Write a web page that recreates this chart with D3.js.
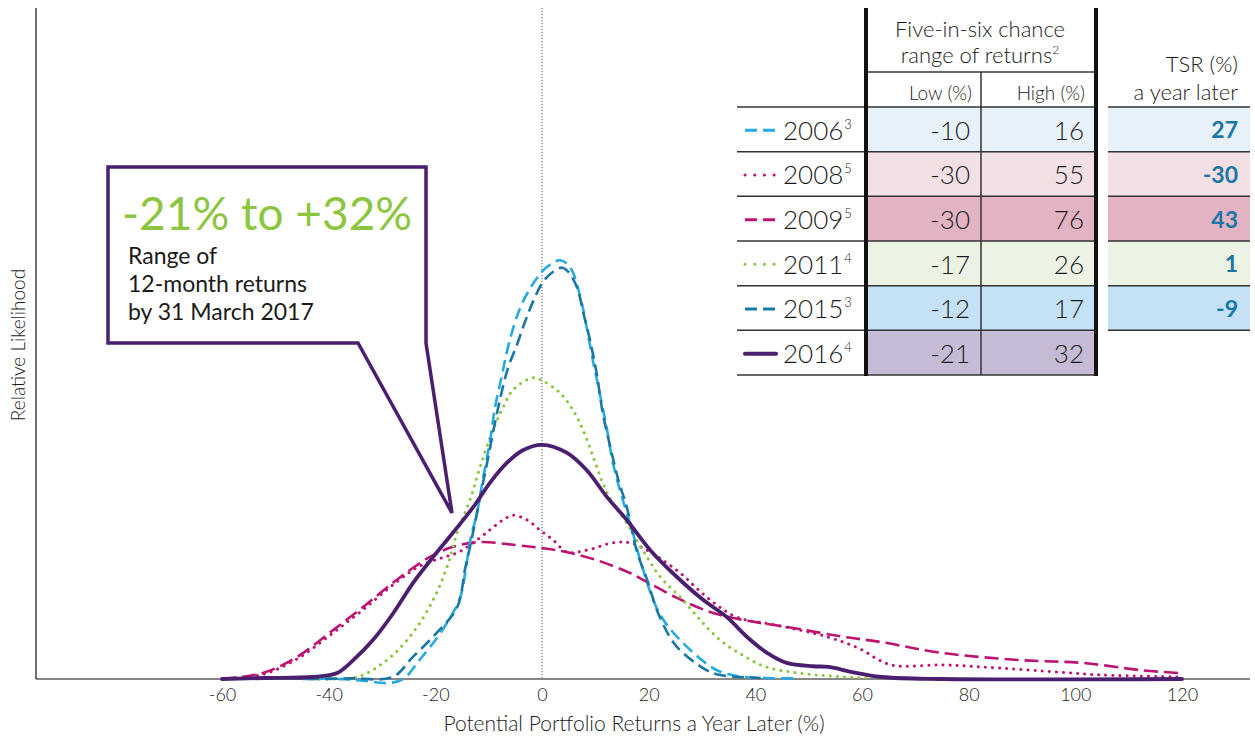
<!DOCTYPE html>
<html>
<head>
<meta charset="utf-8">
<script src="https://cdn.jsdelivr.net/npm/d3@7"></script>
<style>
  body { margin: 0; background: #fff; }
  svg text { font-family: Lato, "Noto Sans", sans-serif; fill: #1a1a1a; font-weight: 300; }
</style>
</head>
<body>
<div id="chart"></div>
<script>
// x ticks of the return axis (%)
const xTicks = [-60, -40, -20, 0, 20, 40, 60, 80, 100, 120];

// table columns
const years = ["2006", "2008", "2009", "2011", "2015", "2016"];
const notes = ["3", "5", "5", "4", "3", "4"];
const lowReturns = [-10, -30, -30, -17, -12, -21];
const highReturns = [16, 55, 76, 26, 17, 32];
const tsrLater = [27, -30, 43, 1, -9, null];

// relative likelihood curves, [return %, likelihood]
const density2006 = [[-45, 0], [-38, 0], [-33, -0.3], [-29, -0.6], [-26, 0], [-23, 2.8], [-19, 6.9], [-15.5, 11.8], [-14.4, 15.8], [-13.5, 20.5], [-12.2, 24.7], [-11.1, 29.7], [-9.8, 35.2], [-8.8, 40.5], [-7.5, 45.3], [-6.6, 48.7], [-5.4, 52.3], [-4.1, 55.3], [-2.6, 57.7], [-0.9, 59.8], [0.9, 61.4], [3.4, 62.4], [5.3, 61.3], [7.1, 57.2], [8.4, 52.3], [9.6, 47.2], [10.3, 44.6], [12.2, 37.1], [13.3, 32.2], [15, 27.1], [16.9, 22.2], [18.6, 17.2], [22, 9.8], [26.4, 5.4], [32.8, 1.3], [37, 0.4], [42, 0.15], [48, 0.1]];
const density2008 = [[-60, 0], [-52.3, 0.7], [-45.9, 3], [-39.8, 6.5], [-33.6, 10.3], [-27.2, 14.5], [-23, 16.8], [-19, 18], [-15.9, 18.8], [-12.9, 20.3], [-9.8, 22.2], [-7.3, 23.7], [-5.4, 24.4], [-2.8, 23.7], [-0.4, 22.2], [2.1, 20.7], [4.7, 18.9], [8.4, 19.2], [13.3, 20.3], [16.5, 20.3], [19.7, 19.2], [22.1, 18], [25.9, 15.8], [31.5, 11.8], [36.6, 9.2], [44.1, 8], [53.4, 6.3], [59.6, 4.5], [62.8, 3], [65, 2.2], [67.3, 1.9], [74.8, 2.1], [82.3, 1.8], [97.5, 1], [105, 0.6], [120, 0.3]];
const density2009 = [[-60, 0], [-52.3, 0.9], [-45.9, 3.3], [-39.8, 6.9], [-33.6, 10.7], [-27.2, 14.8], [-21, 18.2], [-16.7, 19.7], [-11.6, 20.4], [-5.4, 20], [0, 19.5], [4.7, 18.9], [10.3, 17.7], [16.5, 15.8], [18.9, 14.8], [25.3, 12.1], [31.5, 10], [37.7, 8.8], [47.1, 7.6], [56.4, 6.3], [63.6, 5.5], [74.8, 3.9], [90, 2.8], [101.3, 2.4], [112.5, 1.3], [119.3, 0.9]];
const density2011 = [[-43, 0], [-34.7, 0.3], [-29.1, 2.8], [-24.2, 6.9], [-20.4, 11.8], [-17.8, 16.7], [-15.9, 21.8], [-13.5, 26.7], [-11.6, 31.6], [-9.2, 37.1], [-7.3, 40.5], [-5.4, 43.1], [-1.7, 44.9], [0.2, 44.4], [3.4, 42.6], [5.8, 40.1], [7.7, 37.1], [9.6, 33.1], [11.4, 29.2], [13.3, 26.2], [15.9, 23.2], [18.9, 19.2], [22.1, 15.3], [26.4, 11.8], [30, 8.5], [33.4, 5.8], [37.5, 3.6], [42, 1.8], [48, 0.9], [55, 0.4], [62, 0.1]];
const density2015 = [[-44, 0], [-36, 0.1], [-28, 0.3], [-24.2, 3.3], [-19.7, 6.9], [-15.9, 10.7], [-14.4, 16.5], [-13.1, 21.2], [-11.6, 27.1], [-10.3, 32.2], [-8.2, 40.5], [-6.4, 46.3], [-4.7, 49.8], [-3.2, 53.2], [-1.7, 56.2], [0.2, 59.2], [2.1, 60.7], [3.8, 61.3], [4.9, 60.7], [6.6, 58.3], [7.7, 54.7], [9, 50.5], [10.3, 45.3], [11.4, 39.6], [12.8, 34.6], [14.3, 29.7], [15.9, 25.6], [17.8, 19], [19.7, 14.8], [22.1, 9.2], [25.3, 4.8], [30.9, 1.3], [33.4, 0.6], [41, 0.15]];
const density2016 = [[-60, 0], [-52, 0.15], [-43, 0.3], [-38.4, 0.9], [-35.4, 2.8], [-31.7, 5.8], [-27.9, 9.8], [-24.2, 14.3], [-20.4, 18.2], [-16.7, 21.8], [-12.9, 25.6], [-9.8, 29.2], [-6.6, 32.2], [-3.6, 34.1], [0, 34.9], [4.7, 33.7], [8.4, 31.1], [12.2, 27.1], [15.9, 23.7], [20.3, 19.2], [25.3, 15.2], [30.2, 11.8], [34.7, 9.2], [38.4, 6.3], [42.2, 3.9], [45.9, 2.4], [50.8, 1.9], [53.8, 1.8], [58.3, 1.0], [63.6, 0.3], [75, 0], [120, 0]];

const densities = {
    "2006": density2006, "2008": density2008, "2009": density2009,
    "2011": density2011, "2015": density2015, "2016": density2016
};

// line styles per year
const styles = {
    "2006": { color: "#27aae1", dash: "12,6", legendDash: "12,6", width: 2.6, cap: "butt" },
    "2008": { color: "#bd1373", dash: "0.1,7", legendDash: "0.1,9.6", width: 3, cap: "round" },
    "2009": { color: "#bd1373", dash: "14,6", legendDash: "12,6", width: 2.6, cap: "butt" },
    "2011": { color: "#8cc63f", dash: "0.1,7", legendDash: "0.1,9.6", width: 3, cap: "round" },
    "2015": { color: "#1a76a4", dash: "12,6", legendDash: "12,6", width: 2.6, cap: "butt" },
    "2016": { color: "#4a1f6f", dash: null, legendDash: null, width: 3.8, cap: "round" }
};
const rowFills = {
    "2006": "#e6f1fa", "2008": "#f2e0e5", "2009": "#e2b3c2",
    "2011": "#edf3e4", "2015": "#c5e1f5", "2016": "#c6bbd6"
};
const drawOrder = ["2009", "2008", "2011", "2006", "2015", "2016"];

const width = 1255, height = 738;
const svg = d3.select("#chart").append("svg")
    .attr("width", width)
    .attr("height", height);

const x = d3.scaleLinear().domain([-60, 120]).range([222, 1182]);
const y = d3.scaleLinear().domain([0, 100]).range([679, 8]);

// axes frame
svg.append("line")
    .attr("x1", 36).attr("x2", 1250)
    .attr("y1", y(0)).attr("y2", y(0))
    .attr("stroke", "#111").attr("stroke-width", 1.2);
svg.append("line")
    .attr("x1", 36).attr("x2", 36)
    .attr("y1", y(100)).attr("y2", y(0))
    .attr("stroke", "#111").attr("stroke-width", 1.2);

// zero reference
svg.append("line")
    .attr("x1", x(0)).attr("x2", x(0))
    .attr("y1", y(100)).attr("y2", y(0))
    .attr("stroke", "#555").attr("stroke-width", 1)
    .attr("stroke-dasharray", "1.2,1.8");

const xAxis = svg.append("g")
    .attr("transform", `translate(0,${y(0)})`)
    .call(d3.axisBottom(x).tickValues(xTicks).tickSize(0).tickPadding(9).tickFormat(d => String(d)));
xAxis.select(".domain").remove();
xAxis.attr("font-family", null).attr("font-size", 18);

svg.append("text")
    .attr("x", 634).attr("y", 731)
    .attr("text-anchor", "middle")
    .attr("font-size", 21)
    .text("Potential Portfolio Returns a Year Later (%)");

svg.append("text")
    .attr("transform", "translate(25,345) rotate(-90)")
    .attr("text-anchor", "middle")
    .attr("font-size", 19)
    .text("Relative Likelihood");

// curves
const line = d3.line()
    .x(d => x(d[0]))
    .y(d => y(d[1]))
    .curve(d3.curveCatmullRom.alpha(0.5));

svg.append("g").selectAll("path")
    .data(drawOrder)
    .join("path")
    .attr("d", d => line(densities[d]))
    .attr("fill", "none")
    .attr("stroke", d => styles[d].color)
    .attr("stroke-width", d => styles[d].width)
    .attr("stroke-dasharray", d => styles[d].dash)
    .attr("stroke-linecap", d => styles[d].cap)
    .attr("stroke-linejoin", "round");

// callout
svg.append("path")
    .attr("d", "M358,343 L108,343 L108,167 L426,167 L426,343 L452,513 Z")
    .attr("fill", "#fff")
    .attr("stroke", "#4a1f6f")
    .attr("stroke-width", 3.5)
    .attr("stroke-linejoin", "miter");

svg.append("text")
    .attr("x", 122).attr("y", 230)
    .attr("font-size", 46)
    .style("font-weight", 400)
    .style("fill", "#8cc63f")
    .text(`${lowReturns[5]}% to +${highReturns[5]}%`);

svg.append("g").selectAll("text")
    .data(["Range of", "12-month returns", "by 31 March 2017"])
    .join("text")
    .attr("x", 128)
    .attr("y", (d, i) => 264 + i * 28)
    .attr("font-size", 23)
    .style("font-weight", 400)
    .text(d => d);

// table
const col = { label: 737, low: 866, high: 981, end: 1096, tsr: 1108, tsrEnd: 1250 };
const row = d3.scaleBand().domain(years).range([107, 375]);
const table = svg.append("g");

const rows = table.selectAll("g.row")
    .data(years.map((yr, i) => ({ yr, note: notes[i], low: lowReturns[i], high: highReturns[i], tsr: tsrLater[i] })))
    .join("g")
    .attr("class", "row")
    .attr("transform", d => `translate(0,${row(d.yr)})`);

rows.append("rect")
    .attr("x", col.low).attr("width", col.end - col.low)
    .attr("height", row.bandwidth())
    .attr("fill", d => rowFills[d.yr]);

rows.filter(d => d.tsr !== null).append("rect")
    .attr("x", col.tsr).attr("width", col.tsrEnd - col.tsr)
    .attr("height", row.bandwidth())
    .attr("fill", d => rowFills[d.yr]);

rows.append("line")
    .attr("x1", 745).attr("x2", 776)
    .attr("y1", row.bandwidth() / 2 + 1).attr("y2", row.bandwidth() / 2 + 1)
    .attr("stroke", d => styles[d.yr].color)
    .attr("stroke-width", d => d.yr === "2016" ? 4 : 3)
    .attr("stroke-dasharray", d => styles[d.yr].legendDash)
    .attr("stroke-linecap", d => styles[d.yr].cap);

const yearText = rows.append("text")
    .attr("x", 783).attr("y", row.bandwidth() / 2 + 10.5)
    .attr("font-size", 26);
yearText.append("tspan").text(d => d.yr);
yearText.append("tspan")
    .attr("font-size", 13).attr("dy", -11).attr("dx", 1)
    .text(d => d.note);

rows.append("text")
    .attr("x", 970).attr("y", row.bandwidth() / 2 + 10.5)
    .attr("text-anchor", "end").attr("font-size", 26)
    .text(d => d.low);
rows.append("text")
    .attr("x", 1084).attr("y", row.bandwidth() / 2 + 10.5)
    .attr("text-anchor", "end").attr("font-size", 26)
    .text(d => d.high);
rows.filter(d => d.tsr !== null).append("text")
    .attr("x", 1238).attr("y", row.bandwidth() / 2 + 9)
    .attr("text-anchor", "end").attr("font-size", 23)
    .style("font-weight", 700)
    .style("fill", "#1a76a4")
    .text(d => d.tsr);

// grid lines of the table
const bounds = years.map(yr => row(yr)).concat([row.range()[1]]);
table.selectAll("line.hl")
    .data(bounds)
    .join("line")
    .attr("class", "hl")
    .attr("x1", col.label).attr("x2", col.end)
    .attr("y1", d => d).attr("y2", d => d)
    .attr("stroke", "#333").attr("stroke-width", 1.5);
table.selectAll("line.tl")
    .data(bounds.slice(0, 6))
    .join("line")
    .attr("class", "tl")
    .attr("x1", col.tsr).attr("x2", col.tsrEnd)
    .attr("y1", d => d).attr("y2", d => d)
    .attr("stroke", "#333").attr("stroke-width", 1.5);
table.append("line")
    .attr("x1", col.low).attr("x2", col.end)
    .attr("y1", 72).attr("y2", 72)
    .attr("stroke", "#333").attr("stroke-width", 1.5);
table.append("line")
    .attr("x1", col.high).attr("x2", col.high)
    .attr("y1", 72).attr("y2", row.range()[1])
    .attr("stroke", "#333").attr("stroke-width", 1.5);
table.selectAll("line.thick")
    .data([col.low, col.end])
    .join("line")
    .attr("class", "thick")
    .attr("x1", d => d).attr("x2", d => d)
    .attr("y1", 8).attr("y2", row.range()[1] + 1)
    .attr("stroke", "#111").attr("stroke-width", 4);

// table headers
table.append("text")
    .attr("x", 980).attr("y", 37)
    .attr("text-anchor", "middle").attr("font-size", 22)
    .text("Five-in-six chance");
const rangeHead = table.append("text")
    .attr("x", 980).attr("y", 63)
    .attr("text-anchor", "middle").attr("font-size", 22);
rangeHead.append("tspan").text("range of returns");
rangeHead.append("tspan").attr("font-size", 12).attr("dy", -9).text("2");
table.append("text")
    .attr("x", 972).attr("y", 100)
    .attr("text-anchor", "end").attr("font-size", 19)
    .text("Low (%)");
table.append("text")
    .attr("x", 1085).attr("y", 100)
    .attr("text-anchor", "end").attr("font-size", 19)
    .text("High (%)");
table.append("text")
    .attr("x", 1238).attr("y", 72)
    .attr("text-anchor", "end").attr("font-size", 22)
    .text("TSR (%)");
table.append("text")
    .attr("x", 1238).attr("y", 100)
    .attr("text-anchor", "end").attr("font-size", 22)
    .text("a year later");
</script>
</body>
</html>
